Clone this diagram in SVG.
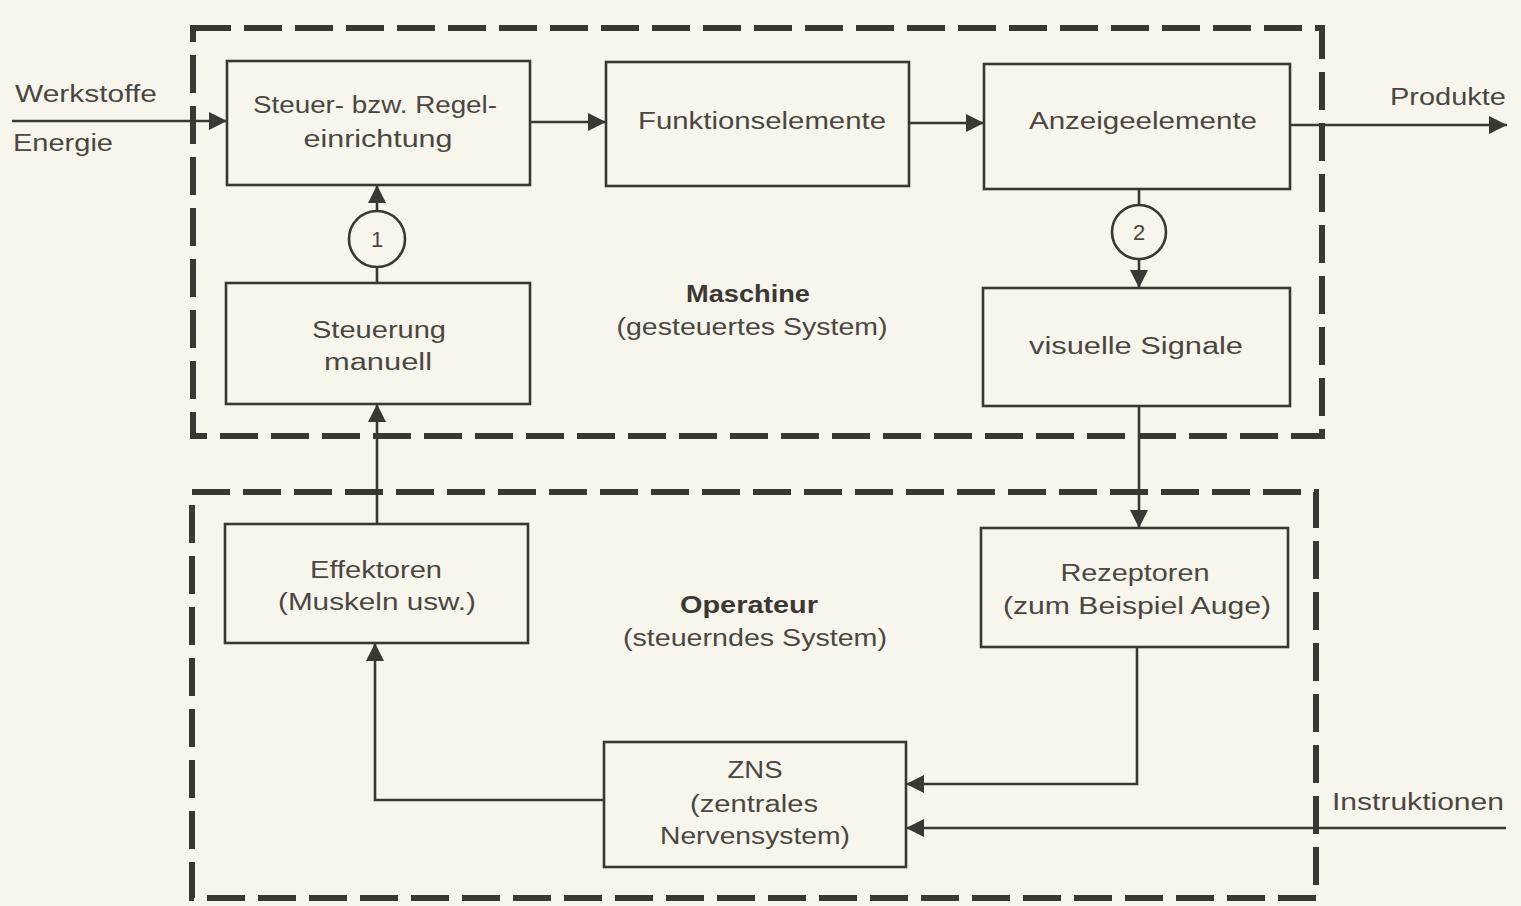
<svg xmlns="http://www.w3.org/2000/svg" width="1521" height="906" viewBox="0 0 1521 906">
<defs>
<marker id="ah" markerUnits="userSpaceOnUse" markerWidth="20" markerHeight="20" refX="18" refY="10" orient="auto"><path d="M0,1 L18,10 L0,19 Z" fill="#3b3834"/></marker>
<style>
.bg{fill:#f8f5ec}
.frame{fill:none;stroke:#3b3834;stroke-width:6;stroke-dasharray:38 13}
.box{fill:none;stroke:#3b3834;stroke-width:2.6}
.c{fill:none;stroke:#3b3834;stroke-width:2.6}
.ar{fill:none;stroke:#3b3834;stroke-width:2.6;marker-end:url(#ah)}
text{font-family:"Liberation Sans","DejaVu Sans",sans-serif;font-size:23px;fill:#4a4742;text-anchor:middle}
.b{font-weight:bold;fill:#3b3834}
.l{text-anchor:start}
.n{font-size:22px}
</style>
</defs>
<rect class="bg" x="0" y="0" width="1521" height="906"/>
<g id="maschine-frame"><rect class="frame" x="193" y="28" width="1129" height="408"/><text class="b" x="748" y="302" textLength="124" lengthAdjust="spacingAndGlyphs">Maschine</text><text x="752" y="335" textLength="271" lengthAdjust="spacingAndGlyphs">(gesteuertes System)</text></g>
<g id="operateur-frame"><rect class="frame" x="192" y="492" width="1124" height="406"/><text class="b" x="749" y="613" textLength="138" lengthAdjust="spacingAndGlyphs">Operateur</text><text x="755" y="646" textLength="264" lengthAdjust="spacingAndGlyphs">(steuerndes System)</text></g>
<g id="steuer"><rect class="box" x="227" y="61" width="303" height="124"/><text x="375" y="113" textLength="244" lengthAdjust="spacingAndGlyphs">Steuer- bzw. Regel-</text><text x="378" y="147" textLength="149" lengthAdjust="spacingAndGlyphs">einrichtung</text></g>
<g id="funktion"><rect class="box" x="606" y="62" width="303" height="124"/><text x="762" y="129" textLength="248" lengthAdjust="spacingAndGlyphs">Funktionselemente</text></g>
<g id="anzeige"><rect class="box" x="984" y="64" width="306" height="125"/><text x="1143" y="129" textLength="228" lengthAdjust="spacingAndGlyphs">Anzeigeelemente</text></g>
<g id="manuell"><rect class="box" x="226" y="283" width="304" height="121"/><text x="379" y="338" textLength="134" lengthAdjust="spacingAndGlyphs">Steuerung</text><text x="378" y="370" textLength="108" lengthAdjust="spacingAndGlyphs">manuell</text></g>
<g id="visuell"><rect class="box" x="983" y="288" width="307" height="118"/><text x="1136" y="354" textLength="214" lengthAdjust="spacingAndGlyphs">visuelle Signale</text></g>
<g id="effektoren"><rect class="box" x="225" y="524" width="303" height="119"/><text x="376" y="578" textLength="132" lengthAdjust="spacingAndGlyphs">Effektoren</text><text x="377" y="610" textLength="198" lengthAdjust="spacingAndGlyphs">(Muskeln usw.)</text></g>
<g id="rezeptoren"><rect class="box" x="981" y="528" width="307" height="119"/><text x="1135" y="581" textLength="149" lengthAdjust="spacingAndGlyphs">Rezeptoren</text><text x="1137" y="614" textLength="268" lengthAdjust="spacingAndGlyphs">(zum Beispiel Auge)</text></g>
<g id="zns"><rect class="box" x="604" y="742" width="302" height="125"/><text x="755" y="778" textLength="55" lengthAdjust="spacingAndGlyphs">ZNS</text><text x="754" y="812" textLength="128" lengthAdjust="spacingAndGlyphs">(zentrales</text><text x="755" y="844" textLength="190" lengthAdjust="spacingAndGlyphs">Nervensystem)</text></g>
<g id="k1"><circle class="c" cx="377" cy="239" r="28"/><text class="n" x="377" y="247">1</text></g>
<g id="k2"><circle class="c" cx="1139" cy="232" r="27"/><text class="n" x="1139" y="240">2</text></g>
<g id="labels"><text class="l" x="15" y="102" textLength="142" lengthAdjust="spacingAndGlyphs">Werkstoffe</text><text class="l" x="13" y="151" textLength="100" lengthAdjust="spacingAndGlyphs">Energie</text><text class="l" x="1390" y="105" textLength="116" lengthAdjust="spacingAndGlyphs">Produkte</text><text class="l" x="1332" y="810" textLength="172" lengthAdjust="spacingAndGlyphs">Instruktionen</text></g>
<g id="connectors">
<line class="ar" x1="12" y1="121" x2="227" y2="121"/>
<line class="ar" x1="530" y1="122" x2="606" y2="122"/>
<line class="ar" x1="909" y1="123" x2="984" y2="123"/>
<line class="ar" x1="1290" y1="125" x2="1507" y2="125"/>
<line class="c" x1="377" y1="283" x2="377" y2="267"/>
<line class="ar" x1="377" y1="211" x2="377" y2="185"/>
<line class="c" x1="1139" y1="189" x2="1139" y2="205"/>
<line class="ar" x1="1139" y1="259" x2="1139" y2="288"/>
<line class="ar" x1="1139" y1="406" x2="1139" y2="528"/>
<line class="ar" x1="377" y1="524" x2="377" y2="404"/>
<polyline class="ar" points="604,800 375,800 375,643"/>
<polyline class="ar" points="1137,647 1137,784 906,784"/>
<line class="ar" x1="1506" y1="828" x2="906" y2="828"/>
</g>
</svg>
